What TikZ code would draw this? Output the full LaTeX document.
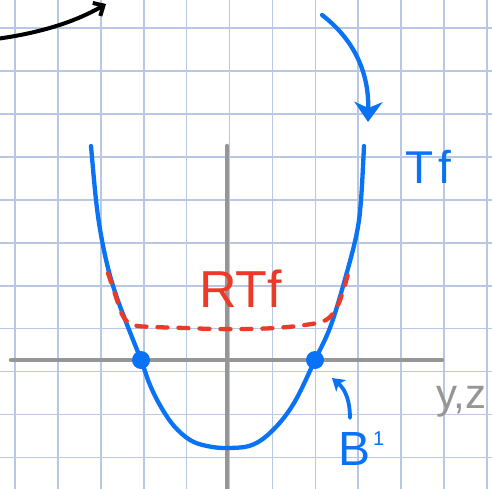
\documentclass[tikz,border=0pt]{standalone}
\usepackage{fontspec}
\setmainfont{Liberation Sans}
\usetikzlibrary{arrows.meta}
\definecolor{gridc}{RGB}{184,200,228}
\definecolor{axc}{RGB}{150,150,150}
\definecolor{blu}{RGB}{10,115,245}
\definecolor{rd}{RGB}{236,58,40}
\begin{document}
\begin{tikzpicture}[x=1pt,y=-1pt,line cap=round,line join=round,
  gridline/.style={gridc,line width=1.6pt},
  axisline/.style={axc,line width=4.5pt},
  curve/.style={blu,line width=4.3pt},
  redcurve/.style={rd,line width=4.3pt,dash pattern=on 10pt off 11pt},
  dotnode/.style={circle,fill=blu,minimum size=18pt,inner sep=0pt},
  lbl/.style={inner sep=0pt,outer sep=0pt}]
\useasboundingbox (0,0) rectangle (492,489);
\fill[white] (0,0) rectangle (492,489);
% grid paper
\foreach \i in {0,...,11} \draw[gridline] ({15+42.9*\i},0) -- ({15+42.9*\i},489);
\foreach \i in {0,...,10} \draw[gridline] (0,{28.3+42.9*\i}) -- (492,{28.3+42.9*\i});
% axes
\coordinate (xl) at (11,360);
\coordinate (xr) at (442,360);
\coordinate (yt) at (227,146);
\coordinate (yb) at (227,492);
\draw[axisline] (xl) -- (xr);
\draw[axisline] (yt) -- (yb);
% blue curve
\draw[curve] plot[smooth,tension=0.6] coordinates {(91,146) (96,200) (101,235) (108,268) (116,295) (126,322) (141,360) (150,385) (161,407) (174,426) (190,440) (207,446) (227,448) (252,445) (273,430) (294,403) (315,360) (331,325) (347,272) (357,232) (361,200) (364,146)};
% red dashed curve
\draw[redcurve] plot[smooth,tension=0.6] coordinates {(108,273) (116,297) (123,316) (133,325) (155,327) (185,328) (215,329) (245,329) (275,328) (305,325) (326,320) (337,307) (344,288) (350,267)};
\node[dotnode] (p1) at (141,360) {};
\node[dotnode] (p2) at (315,360) {};
% labels
\node[lbl,anchor=base west,text=rd,font=\fontsize{52pt}{52pt}\selectfont] (rtf) at (199,307) {RTf};
\node[lbl,anchor=base west,text=blu,font=\fontsize{46pt}{46pt}\selectfont] (tf) at (405,183) {T\kern5pt f};
\node[lbl,anchor=base west,text=axc,font=\fontsize{42pt}{42pt}\selectfont] (yz) at (436,408) {y,z};
\node[lbl,anchor=base west,text=blu,font=\fontsize{48pt}{48pt}\selectfont] (bp) at (338,465) {B\kern3pt{\fontsize{20pt}{20pt}\selectfont\raisebox{20pt}{1}}};
% arrows
\coordinate (a0) at (-4,39);
\coordinate (a1) at (106,4);
\draw[black,line width=4pt,-{Straight Barb[length=8pt,width=15pt,line width=4pt]}] (a0) .. controls (40,33) and (75,22) .. (a1);
\coordinate (b0) at (322,15);
\coordinate (b1) at (368,122);
\draw[curve,-{Stealth[length=20pt,width=28pt,inset=6pt]}] (b0) .. controls (352,38) and (369,70) .. (b1);
\coordinate (c0) at (350,418);
\coordinate (c1) at (332,378);
\draw[blu,line width=3.8pt,-{Stealth[length=12pt,width=15pt,inset=3pt]}] (c0) .. controls (350,402) and (346,390) .. (c1);
\end{tikzpicture}
\end{document}
